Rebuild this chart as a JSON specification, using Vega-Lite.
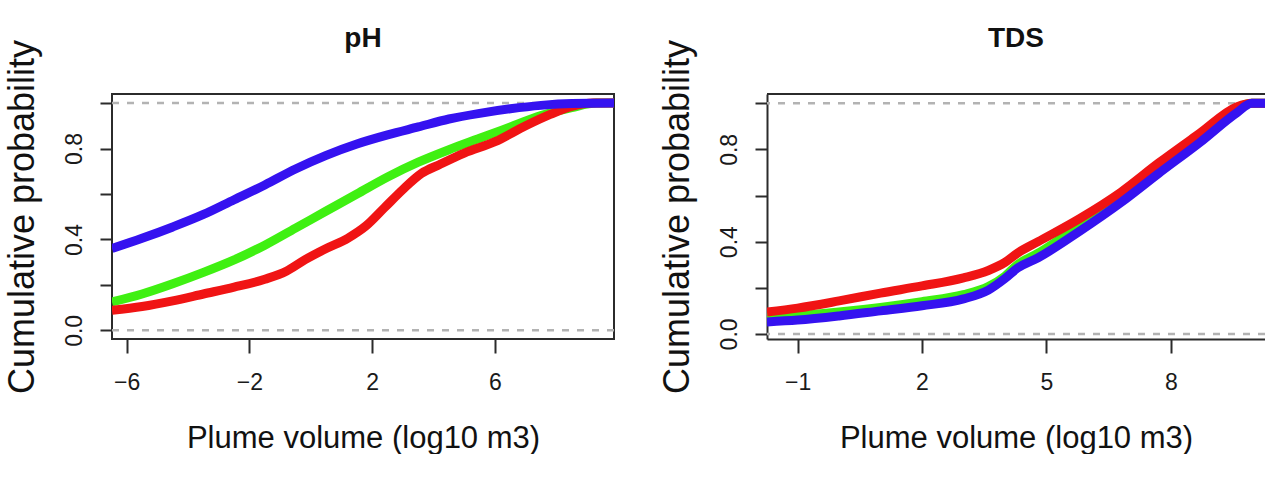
{
  "$schema": "https://vega.github.io/schema/vega-lite/v6.json",
  "background": "white",
  "padding": {"left": 2, "top": 24, "right": 0, "bottom": 0},
  "spacing": 41,
  "config": {
    "font": "Liberation Sans",
    "view": {"stroke": "#2b2b2b", "strokeWidth": 2},
    "axis": {
      "grid": false,
      "domain": false,
      "tickColor": "#2b2b2b",
      "tickWidth": 2,
      "labelFont": "Liberation Sans",
      "labelFontSize": 23,
      "labelColor": "#1a1a1a",
      "titleFont": "Liberation Sans",
      "titleFontWeight": "normal",
      "titleColor": "#111111",
      "domainColor": "#2b2b2b",
      "domainWidth": 2
    },
    "axisX": {"tickSize": 14, "labelPadding": 18, "titleFontSize": 31, "titlePadding": 29},
    "axisY": {"tickSize": 12, "labelPadding": 19, "labelAngle": 270, "labelAlign": "center", "labelBaseline": "alphabetic", "titleFontSize": 36, "titlePadding": 22},
    "legend": {"disable": true}
  },
  "datasets": {
    "ph": [
      {"x": -6.48, "p": 0.125, "s": "green"}, {"x": -5.5, "p": 0.16, "s": "green"}, {"x": -4.5, "p": 0.205, "s": "green"}, {"x": -3.5, "p": 0.255, "s": "green"}, {"x": -2.5, "p": 0.31, "s": "green"}, {"x": -1.5, "p": 0.375, "s": "green"}, {"x": -0.5, "p": 0.45, "s": "green"}, {"x": 0.5, "p": 0.525, "s": "green"}, {"x": 1.5, "p": 0.6, "s": "green"}, {"x": 2.5, "p": 0.675, "s": "green"}, {"x": 3.5, "p": 0.74, "s": "green"}, {"x": 4.5, "p": 0.795, "s": "green"}, {"x": 5.5, "p": 0.845, "s": "green"}, {"x": 6.5, "p": 0.895, "s": "green"}, {"x": 7.5, "p": 0.945, "s": "green"}, {"x": 8.5, "p": 0.98, "s": "green"}, {"x": 9.3, "p": 1.0, "s": "green"}, {"x": 9.88, "p": 1.0, "s": "green"},
      {"x": -6.48, "p": 0.088, "s": "red"}, {"x": -5.5, "p": 0.105, "s": "red"}, {"x": -4.5, "p": 0.13, "s": "red"}, {"x": -3.5, "p": 0.16, "s": "red"}, {"x": -2.5, "p": 0.19, "s": "red"}, {"x": -1.5, "p": 0.225, "s": "red"}, {"x": -0.8, "p": 0.26, "s": "red"}, {"x": -0.2, "p": 0.31, "s": "red"}, {"x": 0.5, "p": 0.36, "s": "red"}, {"x": 1.2, "p": 0.405, "s": "red"}, {"x": 1.8, "p": 0.46, "s": "red"}, {"x": 2.4, "p": 0.54, "s": "red"}, {"x": 3.0, "p": 0.62, "s": "red"}, {"x": 3.6, "p": 0.69, "s": "red"}, {"x": 4.2, "p": 0.73, "s": "red"}, {"x": 5.0, "p": 0.78, "s": "red"}, {"x": 6.0, "p": 0.83, "s": "red"}, {"x": 7.0, "p": 0.9, "s": "red"}, {"x": 7.8, "p": 0.95, "s": "red"}, {"x": 8.5, "p": 0.985, "s": "red"}, {"x": 9.2, "p": 1.0, "s": "red"}, {"x": 9.88, "p": 1.0, "s": "red"},
      {"x": -6.48, "p": 0.36, "s": "blue"}, {"x": -5.5, "p": 0.405, "s": "blue"}, {"x": -4.5, "p": 0.455, "s": "blue"}, {"x": -3.5, "p": 0.51, "s": "blue"}, {"x": -2.5, "p": 0.575, "s": "blue"}, {"x": -1.5, "p": 0.64, "s": "blue"}, {"x": -0.5, "p": 0.71, "s": "blue"}, {"x": 0.5, "p": 0.77, "s": "blue"}, {"x": 1.5, "p": 0.82, "s": "blue"}, {"x": 2.5, "p": 0.86, "s": "blue"}, {"x": 3.5, "p": 0.895, "s": "blue"}, {"x": 4.5, "p": 0.93, "s": "blue"}, {"x": 5.5, "p": 0.955, "s": "blue"}, {"x": 6.5, "p": 0.975, "s": "blue"}, {"x": 7.5, "p": 0.99, "s": "blue"}, {"x": 8.5, "p": 0.998, "s": "blue"}, {"x": 9.88, "p": 1.0, "s": "blue"}
    ],
    "tds": [
      {"x": -1.737, "p": 0.075, "s": "green"}, {"x": -1.0, "p": 0.08, "s": "green"}, {"x": 0.0, "p": 0.095, "s": "green"}, {"x": 1.0, "p": 0.115, "s": "green"}, {"x": 2.0, "p": 0.14, "s": "green"}, {"x": 3.0, "p": 0.17, "s": "green"}, {"x": 3.6, "p": 0.205, "s": "green"}, {"x": 4.0, "p": 0.25, "s": "green"}, {"x": 4.3, "p": 0.3, "s": "green"}, {"x": 4.8, "p": 0.35, "s": "green"}, {"x": 5.8, "p": 0.47, "s": "green"}, {"x": 6.8, "p": 0.6, "s": "green"}, {"x": 7.7, "p": 0.73, "s": "green"}, {"x": 8.7, "p": 0.86, "s": "green"}, {"x": 9.6, "p": 0.98, "s": "green"}, {"x": 9.95, "p": 1.0, "s": "green"}, {"x": 10.27, "p": 1.0, "s": "green"},
      {"x": -1.737, "p": 0.095, "s": "red"}, {"x": -1.0, "p": 0.112, "s": "red"}, {"x": 0.0, "p": 0.143, "s": "red"}, {"x": 1.0, "p": 0.177, "s": "red"}, {"x": 2.0, "p": 0.208, "s": "red"}, {"x": 3.0, "p": 0.243, "s": "red"}, {"x": 3.6, "p": 0.275, "s": "red"}, {"x": 4.0, "p": 0.31, "s": "red"}, {"x": 4.3, "p": 0.35, "s": "red"}, {"x": 4.8, "p": 0.4, "s": "red"}, {"x": 5.8, "p": 0.5, "s": "red"}, {"x": 6.8, "p": 0.615, "s": "red"}, {"x": 7.7, "p": 0.74, "s": "red"}, {"x": 8.7, "p": 0.87, "s": "red"}, {"x": 9.6, "p": 0.985, "s": "red"}, {"x": 9.95, "p": 1.0, "s": "red"}, {"x": 10.27, "p": 1.0, "s": "red"},
      {"x": -1.737, "p": 0.052, "s": "blue"}, {"x": -1.0, "p": 0.06, "s": "blue"}, {"x": 0.0, "p": 0.078, "s": "blue"}, {"x": 1.0, "p": 0.1, "s": "blue"}, {"x": 2.0, "p": 0.122, "s": "blue"}, {"x": 3.0, "p": 0.152, "s": "blue"}, {"x": 3.6, "p": 0.19, "s": "blue"}, {"x": 4.0, "p": 0.24, "s": "blue"}, {"x": 4.3, "p": 0.285, "s": "blue"}, {"x": 4.8, "p": 0.33, "s": "blue"}, {"x": 5.8, "p": 0.445, "s": "blue"}, {"x": 6.8, "p": 0.57, "s": "blue"}, {"x": 7.7, "p": 0.695, "s": "blue"}, {"x": 8.7, "p": 0.83, "s": "blue"}, {"x": 9.6, "p": 0.96, "s": "blue"}, {"x": 9.95, "p": 1.0, "s": "blue"}, {"x": 10.27, "p": 1.0, "s": "blue"}
    ],
    "lines01": [{"p": 0}, {"p": 1}],
    "frameTop": [{"p": 1.04}]
  },
  "resolve": {"scale": {"x": "independent", "y": "independent"}},
  "hconcat": [
    {
      "width": 502,
      "height": 245,
      "title": {"text": "pH", "fontSize": 28, "fontWeight": "bold", "anchor": "middle", "frame": "group", "offset": -14, "color": "#111111"},
      "layer": [
        {
          "data": {"name": "lines01"},
          "mark": {"type": "rule", "color": "#b3b3b3", "strokeWidth": 2.5, "strokeDash": [7, 8]},
          "encoding": {
            "y": {"field": "p", "type": "quantitative", "scale": {"domain": [-0.038, 1.04], "nice": false, "zero": false},
                  "axis": {"title": "Cumulative probability", "values": [0, 0.2, 0.4, 0.6, 0.8, 1.0], "labelExpr": "round(datum.value*10) % 4 == 0 ? format(datum.value, '.1f') : ''"}}
          }
        },
        {
          "data": {"name": "ph"},
          "mark": {"type": "line", "strokeWidth": 9, "clip": true, "interpolate": "monotone"},
          "encoding": {
            "x": {"field": "x", "type": "quantitative", "scale": {"domain": [-6.479, 9.877], "nice": false, "zero": false},
                  "axis": {"title": "Plume volume (log10 m3)", "values": [-6, -2, 2, 6], "format": "d"}},
            "y": {"field": "p", "type": "quantitative"},
            "color": {"field": "s", "type": "nominal", "scale": {"domain": ["green", "red", "blue"], "range": ["#3ff012", "#f01414", "#3512f0"]}}
          }
        }
      ]
    },
    {
      "width": 498,
      "height": 245,
      "view": {"stroke": null},
      "title": {"text": "TDS", "fontSize": 28, "fontWeight": "bold", "anchor": "middle", "frame": "group", "offset": -14, "color": "#111111"},
      "layer": [
        {
          "data": {"name": "lines01"},
          "mark": {"type": "rule", "color": "#b3b3b3", "strokeWidth": 2.5, "strokeDash": [7, 8]},
          "encoding": {
            "y": {"field": "p", "type": "quantitative", "scale": {"domain": [-0.022, 1.04], "nice": false, "zero": false},
                  "axis": {"title": "Cumulative probability", "domain": true, "values": [0, 0.2, 0.4, 0.6, 0.8, 1.0], "labelExpr": "round(datum.value*10) % 4 == 0 ? format(datum.value, '.1f') : ''"}}
          }
        },
        {
          "data": {"name": "frameTop"},
          "mark": {"type": "rule", "color": "#2b2b2b", "strokeWidth": 2},
          "encoding": {
            "y": {"field": "p", "type": "quantitative"}
          }
        },
        {
          "data": {"name": "tds"},
          "mark": {"type": "line", "strokeWidth": 9, "clip": true, "interpolate": "monotone"},
          "encoding": {
            "x": {"field": "x", "type": "quantitative", "scale": {"domain": [-1.737, 10.27], "nice": false, "zero": false},
                  "axis": {"title": "Plume volume (log10 m3)", "domain": true, "values": [-1, 2, 5, 8], "format": "d"}},
            "y": {"field": "p", "type": "quantitative"},
            "color": {"field": "s", "type": "nominal", "scale": {"domain": ["green", "red", "blue"], "range": ["#3ff012", "#f01414", "#3512f0"]}}
          }
        }
      ]
    }
  ]
}
